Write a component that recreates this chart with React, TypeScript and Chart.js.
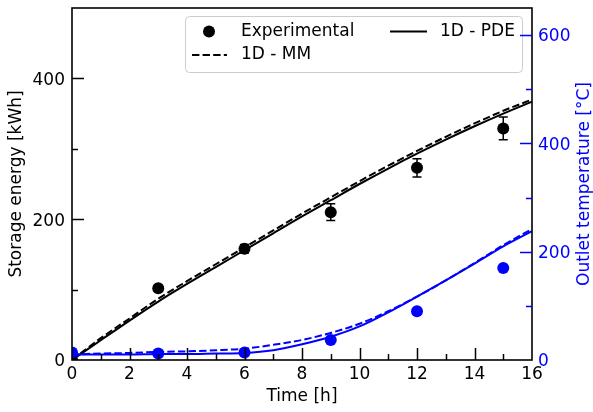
import React, { useEffect, useRef } from "react";
import { Chart, registerables } from "chart.js";

Chart.register(...registerables);

const hours = [0, 1, 2, 3, 4, 5, 6, 7, 8, 9, 10, 11, 12, 13, 14, 15, 16];
const energyPDE = [0, 28, 56, 83, 108, 132, 156, 180, 204, 227, 250, 272, 293, 313, 332, 350, 367];
const energyMM = [0, 31, 59, 87, 112, 136, 160, 184, 208, 231, 254, 276, 297, 317, 336, 354, 370];
const tempPDE = [10, 10, 10, 11, 11, 12, 13, 18, 29, 43, 62, 88, 117, 147, 178, 210, 238];
const tempMM = [10, 12, 13, 15, 16, 18, 21, 28, 37, 50, 67, 90, 117, 147, 179, 212, 242];

const expHours = [0, 3, 6, 9, 12, 15];
const expEnergy = [0, 102, 158, 210, 273, 329];
const expEnergyErr = [0, 3, 6, 12, 13, 16];
const expTemp = [14, 12, 14, 37, 90, 170];

const xTicks = [0, 2, 4, 6, 8, 10, 12, 14, 16];
const xMinorTicks = [1, 3, 5, 7, 9, 11, 13, 15];
const energyTicks = [0, 200, 400];
const energyMinorTicks = [100, 300];
const tempTicks = [0, 200, 400, 600];
const tempMinorTicks = [100, 300, 500];

const BLUE = "#0000ff";
const FONT = "17px 'DejaVu Sans'";

const pts = (xs: number[], ys: number[]) => xs.map((x, i) => ({ x, y: ys[i] }));

const decorPlugin = {
  id: "decor",
  beforeDatasetsDraw(chart: any) {
    const ctx = chart.ctx;
    const xs = chart.scales.x;
    const ys = chart.scales.y;
    ctx.save();
    ctx.strokeStyle = "#000";
    ctx.lineWidth = 1.5;
    expHours.forEach((h, i) => {
      const e = expEnergyErr[i];
      if (!e) return;
      const px = xs.getPixelForValue(h);
      const y1 = ys.getPixelForValue(expEnergy[i] - e);
      const y2 = ys.getPixelForValue(expEnergy[i] + e);
      ctx.beginPath();
      ctx.moveTo(px, y1);
      ctx.lineTo(px, y2);
      ctx.moveTo(px - 4.5, y1);
      ctx.lineTo(px + 4.5, y1);
      ctx.moveTo(px - 4.5, y2);
      ctx.lineTo(px + 4.5, y2);
      ctx.stroke();
    });
    ctx.restore();
  },
  afterDraw(chart: any) {
    const ctx = chart.ctx;
    const a = chart.chartArea;
    const xs = chart.scales.x;
    const ys = chart.scales.y;
    const y2s = chart.scales.y2;
    ctx.save();

    // Legend
    const lx = 185.5, ly = 16.5, lw = 337, lh = 56;
    ctx.beginPath();
    (ctx as any).roundRect(lx, ly, lw, lh, 4);
    ctx.fillStyle = "rgba(255,255,255,0.8)";
    ctx.fill();
    ctx.strokeStyle = "#cccccc";
    ctx.lineWidth = 1;
    ctx.stroke();

    ctx.fillStyle = "#000";
    ctx.beginPath();
    ctx.arc(209, 31.5, 6, 0, Math.PI * 2);
    ctx.fill();
    ctx.strokeStyle = "#000";
    ctx.lineWidth = 2;
    ctx.beginPath();
    ctx.moveTo(390, 31.5);
    ctx.lineTo(427, 31.5);
    ctx.stroke();
    ctx.setLineDash([7.4, 3.2]);
    ctx.beginPath();
    ctx.moveTo(192, 55);
    ctx.lineTo(227, 55);
    ctx.stroke();
    ctx.setLineDash([]);
    ctx.font = FONT;
    ctx.textBaseline = "middle";
    ctx.textAlign = "left";
    ctx.fillText("Experimental", 241, 31.5);
    ctx.fillText("1D - PDE", 440, 31.5);
    ctx.fillText("1D - MM", 241, 55);

    // Spines
    ctx.strokeStyle = "#000";
    ctx.lineWidth = 1.6;
    ctx.strokeRect(a.left, a.top, a.right - a.left, a.bottom - a.top);

    // Ticks
    ctx.lineWidth = 1.5;
    const vtick = (scale: any, vals: number[], len: number) => {
      vals.forEach((v) => {
        const p = Math.round(scale.getPixelForValue(v)) + 0.5;
        ctx.beginPath();
        ctx.moveTo(p, a.bottom);
        ctx.lineTo(p, a.bottom - len);
        ctx.stroke();
      });
    };
    vtick(xs, xTicks.slice(1, -1), 12);
    vtick(xs, xMinorTicks, 6);
    const ltick = (vals: number[], len: number) => {
      vals.forEach((v) => {
        const p = Math.round(ys.getPixelForValue(v)) + 0.5;
        ctx.beginPath();
        ctx.moveTo(a.left, p);
        ctx.lineTo(a.left + len, p);
        ctx.stroke();
      });
    };
    ltick(energyTicks.slice(1), 12);
    ltick(energyMinorTicks, 6);
    ctx.strokeStyle = BLUE;
    const rtick = (vals: number[], len: number) => {
      vals.forEach((v) => {
        const p = Math.round(y2s.getPixelForValue(v)) + 0.5;
        ctx.beginPath();
        ctx.moveTo(a.right, p);
        ctx.lineTo(a.right - len, p);
        ctx.stroke();
      });
    };
    rtick(tempTicks.slice(1), 12);
    rtick(tempMinorTicks, 6);

    // Axis titles
    ctx.fillStyle = "#000";
    ctx.textAlign = "center";
    ctx.textBaseline = "middle";
    ctx.fillText("Time [h]", (a.left + a.right) / 2, 397);
    const cy = (a.top + a.bottom) / 2;
    ctx.save();
    ctx.translate(17, cy);
    ctx.rotate(-Math.PI / 2);
    ctx.fillText("Storage energy [kWh]", 0, 0);
    ctx.restore();
    ctx.save();
    ctx.translate(585, cy);
    ctx.rotate(-Math.PI / 2);
    ctx.fillStyle = BLUE;
    ctx.fillText("Outlet temperature [°C]", 0, 0);
    ctx.restore();

    ctx.restore();
  },
};

const zeroPad = (s: any) => {
  s.paddingTop = 0;
  s.paddingBottom = 0;
};

export default function App() {
  const ref = useRef<HTMLCanvasElement | null>(null);
  useEffect(() => {
    document.body.style.margin = "0";
    const canvas = ref.current!;
    Chart.defaults.font.family = "'DejaVu Sans'";
    Chart.defaults.font.size = 17;
    const chart = new Chart(canvas, {
      type: "line",
      data: {
        datasets: [
          {
            label: "temp exp",
            data: pts(expHours, expTemp),
            yAxisID: "y2",
            showLine: false,
            pointRadius: 6,
            pointBackgroundColor: BLUE,
            pointBorderWidth: 0,
            borderColor: BLUE,
            clip: 0,
            order: 0,
          },
          {
            label: "temp PDE",
            data: pts(hours, tempPDE),
            yAxisID: "y2",
            borderColor: BLUE,
            borderWidth: 2,
            pointRadius: 0,
            cubicInterpolationMode: "monotone",
            clip: 0,
            order: 1,
          },
          {
            label: "temp MM",
            data: pts(hours, tempMM),
            yAxisID: "y2",
            borderColor: BLUE,
            borderWidth: 2,
            borderDash: [7.4, 3.2],
            pointRadius: 0,
            cubicInterpolationMode: "monotone",
            clip: 0,
            order: 1,
          },
          {
            label: "Experimental",
            data: pts(expHours, expEnergy),
            yAxisID: "y",
            showLine: false,
            pointRadius: 6,
            pointBackgroundColor: "#000",
            pointBorderWidth: 0,
            borderColor: "#000",
            clip: 0,
            order: 2,
          },
          {
            label: "1D - PDE",
            data: pts(hours, energyPDE),
            yAxisID: "y",
            borderColor: "#000",
            borderWidth: 2,
            pointRadius: 0,
            cubicInterpolationMode: "monotone",
            clip: 0,
            order: 3,
          },
          {
            label: "1D - MM",
            data: pts(hours, energyMM),
            yAxisID: "y",
            borderColor: "#000",
            borderWidth: 2,
            borderDash: [7.4, 3.2],
            pointRadius: 0,
            cubicInterpolationMode: "monotone",
            clip: 0,
            order: 3,
          },
        ],
      },
      options: {
        responsive: false,
        animation: false,
        devicePixelRatio: 1,
        layout: { padding: { top: 8, left: 0, right: 0, bottom: 0 } },
        plugins: { legend: { display: false }, tooltip: { enabled: false } },
        events: [],
        scales: {
          x: {
            type: "linear",
            min: 0,
            max: 16,
            position: "bottom",
            grid: { display: false, drawTicks: false },
            border: { display: false },
            afterBuildTicks: (s: any) => {
              s.ticks = xTicks.map((v) => ({ value: v }));
            },
            afterFit: (s: any) => {
              s.height = 52;
              s.paddingLeft = 0;
              s.paddingRight = 0;
            },
            ticks: { color: "#000", padding: 4, maxRotation: 0, autoSkip: false, font: { size: 17 } },
          },
          y: {
            type: "linear",
            min: 0,
            max: 500,
            position: "left",
            grid: { display: false, drawTicks: false },
            border: { display: false },
            afterBuildTicks: (s: any) => {
              s.ticks = energyTicks.map((v) => ({ value: v }));
            },
            afterFit: (s: any) => {
              s.width = 72;
              zeroPad(s);
            },
            ticks: { color: "#000", padding: 7, labelOffset: 2, autoSkip: false, font: { size: 17 } },
          },
          y2: {
            type: "linear",
            min: 0,
            max: 650,
            position: "right",
            grid: { display: false, drawTicks: false },
            border: { display: false },
            afterBuildTicks: (s: any) => {
              s.ticks = tempTicks.map((v) => ({ value: v }));
            },
            afterFit: (s: any) => {
              s.width = 61;
              zeroPad(s);
            },
            ticks: { color: BLUE, padding: 6, labelOffset: 2, autoSkip: false, font: { size: 17 } },
          },
        },
      },
      plugins: [decorPlugin],
    } as any);
    return () => chart.destroy();
  }, []);
  return <canvas ref={ref} width={593} height={412} style={{ display: "block" }} />;
}
